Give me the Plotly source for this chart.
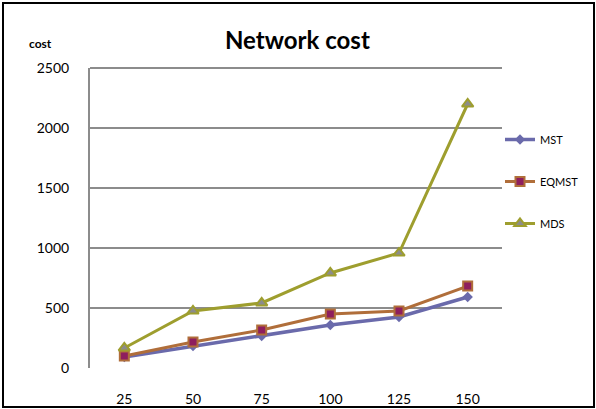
import plotly.graph_objects as go

# Network sizes (x categories) and cost per method
sizes = ["25", "50", "75", "100", "125", "150"]
mst = [92, 183, 267, 358, 425, 592]
eqmst = [100, 217, 317, 450, 475, 683]
mds = [167, 475, 542, 792, 958, 2200]

y_ticks = [0, 500, 1000, 1500, 2000, 2500]

W, H = 596, 409
L, R, T, B = 90, 94, 68, 41
pw, ph = W - L - R, H - T - B


def px_x(px):
    return (px - L) / pw


def px_y(py):
    return (H - B - py) / ph


fig = go.Figure()
fig.add_trace(go.Scatter(
    x=sizes, y=mst, name="MST", mode="lines+markers", legendgroup="a",
    line=dict(color="#6A6AAB", width=3.5),
    marker=dict(symbol="diamond", size=8, color="#6A6AAB"),
))
fig.add_trace(go.Scatter(
    x=sizes, y=eqmst, name="EQMST", mode="lines+markers", legendgroup="b",
    line=dict(color="#B06E3A", width=3),
    marker=dict(symbol="square", size=9, color="#8E1E5E",
                line=dict(color="#B06E3A", width=2)),
))
fig.add_trace(go.Scatter(
    x=sizes, y=mds, name="MDS", mode="lines+markers", legendgroup="c",
    line=dict(color="#9E9E2E", width=3),
    marker=dict(symbol="triangle-up", size=10, color="#8C8C8C",
                line=dict(color="#9E9E2E", width=2)),
))

fig.update_layout(
    width=W, height=H,
    margin=dict(l=L, r=R, t=T, b=B, pad=0, autoexpand=False),
    paper_bgcolor="white", plot_bgcolor="white",
    font=dict(family="Lato, 'Open Sans', sans-serif", color="#000000", size=14),
    showlegend=True,
    legend=dict(
        x=px_x(500), y=px_y(125), xanchor="left", yanchor="top",
        font=dict(size=11, color="#000000"),
        tracegroupgap=23, bgcolor="rgba(0,0,0,0)",
        itemwidth=30,
    ),
    xaxis=dict(
        type="category", range=[-0.5, 5.5], automargin=False,
        showgrid=False, zeroline=False, showline=False,
        ticks="", ticklabelstandoff=21,
        tickfont=dict(size=14),
    ),
    yaxis=dict(
        range=[0, 2500], tickvals=y_ticks, automargin=False,
        showgrid=True, gridcolor="#8C8C8C", gridwidth=2,
        zeroline=False, showline=True, linecolor="#8C8C8C", linewidth=2,
        ticks="", ticklabelstandoff=16,
        tickfont=dict(size=14),
    ),
    annotations=[
        dict(text="<b>Network cost</b>", x=px_x(297), y=px_y(39),
             xref="paper", yref="paper", showarrow=False,
             xanchor="center", yanchor="middle",
             font=dict(size=24, color="#000000")),
        dict(text="<b>cost</b>", x=px_x(40), y=px_y(43),
             xref="paper", yref="paper", showarrow=False,
             xanchor="center", yanchor="middle",
             font=dict(size=12, color="#000000")),
    ],
    shapes=[
        dict(type="line", xref="paper", yref="paper",
             x0=0, x1=1, y0=1, y1=1,
             line=dict(color="#8C8C8C", width=2), layer="below"),
        dict(type="rect", xref="paper", yref="paper",
             x0=px_x(3), x1=px_x(594), y0=px_y(3), y1=px_y(407),
             line=dict(color="#000000", width=2)),
    ],
)

fig.write_html("out.html")
